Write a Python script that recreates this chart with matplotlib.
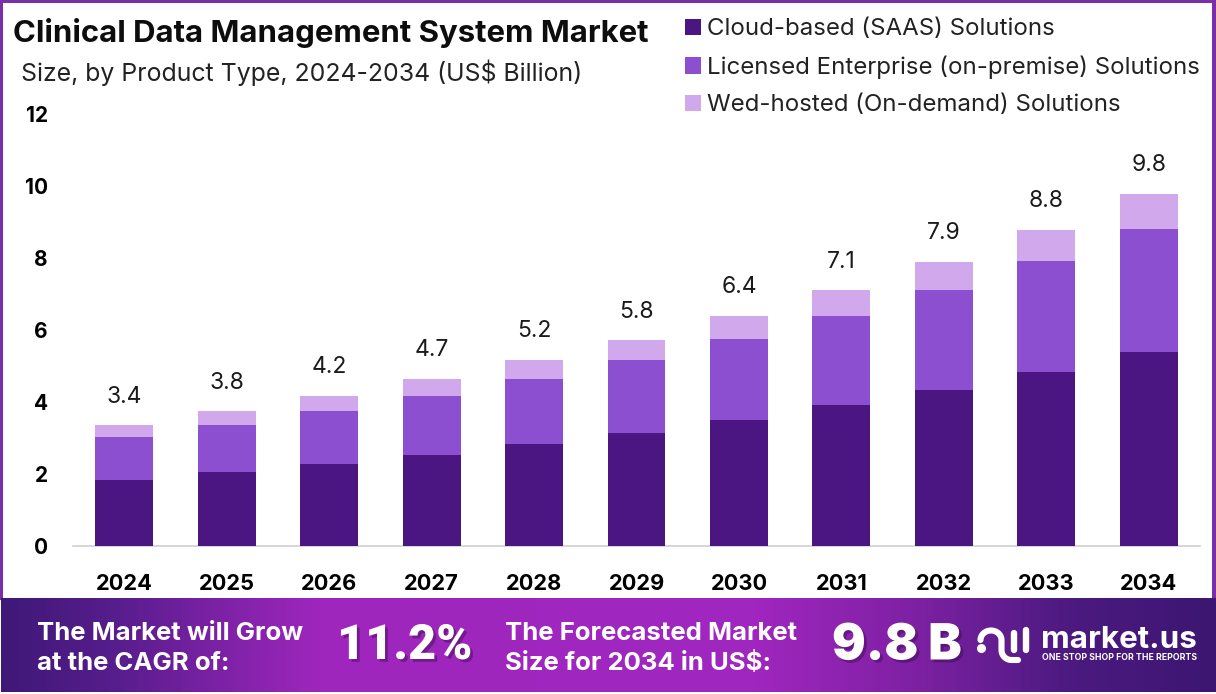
import numpy as np
import matplotlib
matplotlib.use("Agg")
import matplotlib.pyplot as plt
import matplotlib.patheffects as pe
from matplotlib.colors import LinearSegmentedColormap
from matplotlib.patches import Rectangle
from matplotlib.lines import Line2D

plt.rcParams['font.family'] = ['Inter', 'DejaVu Sans']

# Data
years = [2024, 2025, 2026, 2027, 2028, 2029, 2030, 2031, 2032, 2033, 2034]
totals = [3.4, 3.8, 4.2, 4.7, 5.2, 5.8, 6.4, 7.1, 7.9, 8.8, 9.8]
cloud = [1.83, 2.05, 2.28, 2.53, 2.83, 3.14, 3.50, 3.92, 4.33, 4.83, 5.39]
licensed = [1.20, 1.31, 1.47, 1.64, 1.81, 2.03, 2.25, 2.47, 2.78, 3.09, 3.42]
web = [0.33, 0.39, 0.42, 0.47, 0.53, 0.55, 0.64, 0.72, 0.78, 0.86, 0.97]
labels = ["Cloud-based (SAAS) Solutions",
          "Licensed Enterprise (on-premise) Solutions",
          "Wed-hosted (On-demand) Solutions"]
colors = ["#4c1682", "#8c4fd0", "#d2a8ec"]
W, H = 1216, 694

fig = plt.figure(figsize=(W / 100, H / 100), dpi=100, facecolor="white")

# full figure overlay in pixel coordinates for frame, banner, logo
bg = fig.add_axes([0, 0, 1, 1])
bg.axis("off")

frame_col = "#7b2fa6"
bg.add_patch(Rectangle((0, 0), W, 3, color=frame_col, lw=0))
bg.add_patch(Rectangle((0, 0), 2.5, 600, color=frame_col, lw=0))
bg.add_patch(Rectangle((W - 4, 0), 4, 600, color=frame_col, lw=0))

cmap = LinearSegmentedColormap.from_list("banner", [
    (0.0, "#3f1878"), (0.09, "#561d8c"), (0.26, "#9f26bd"),
    (0.62, "#a026bf"), (0.75, "#7f21a4"), (0.88, "#4c1a80"), (1.0, "#3d1672")])
grad = np.linspace(0, 1, 600).reshape(1, -1)
bg.imshow(grad, cmap=cmap, extent=(1, W, 692, 598), aspect="auto", zorder=1)
bg.set_xlim(0, W)
bg.set_ylim(H, 0)

# chart
ax = fig.add_axes([73 / W, 1 - 546 / H, 1127 / W, 432 / H], facecolor="none")
x = np.arange(len(years))
bottom = np.zeros(len(years))
for vals, col, lab in zip([cloud, licensed, web], colors, labels):
    ax.bar(x, vals, 0.566, bottom=bottom, color=col, label=lab, zorder=3)
    bottom = bottom + np.array(vals)
for xi, top, t in zip(x, bottom, totals):
    ax.annotate(f"{t}", (xi, top), xytext=(0, 20.5), textcoords="offset points",
                ha="center", va="center", fontsize=16.5, color="#1a1a1a")

ax.set_xlim(-0.5, 10.5)
ax.set_ylim(0, 12)
ax.set_xticks(x, [str(y) for y in years], fontsize=15.7, fontweight="bold")
ax.set_yticks(range(0, 13, 2))
ax.tick_params(axis="y", length=0, pad=18, labelsize=15)
ax.tick_params(axis="x", length=0, pad=20)
for lb in ax.get_yticklabels():
    lb.set_fontweight("bold")
for s in ["top", "right", "left"]:
    ax.spines[s].set_visible(False)
ax.spines["bottom"].set_color("#d0d0d0")
ax.spines["bottom"].set_linewidth(1.2)

# titles
bg.text(13, 33, "Clinical Data Management System Market", fontsize=22.4, fontweight="bold",
        color="#0d0d0d", va="center", ha="left")
bg.text(21, 73, "Size, by Product Type, 2024-2034 (US$ Billion)", fontsize=17.9,
        color="#222222", va="center", ha="left")

# legend
handles, leg_labels = ax.get_legend_handles_labels()
leg = fig.legend(handles, leg_labels, loc="upper left", bbox_to_anchor=(678 / W, 1 - 11 / H),
                 frameon=False, fontsize=17.3, handlelength=0.67, handleheight=0.67,
                 handletextpad=0.25, labelspacing=0.64, borderpad=0.3, borderaxespad=0)
for t in leg.get_texts():
    t.set_color("#222222")

# banner text
for xp, yp, s in [(37, 633, "The Market will Grow"), (37, 663, "at the CAGR of:"),
                  (505, 633, "The Forecasted Market"), (505, 663, "Size for 2034 in US$:")]:
    bg.text(xp, yp, s, color="white", fontsize=18.5, fontweight="bold", va="center", ha="left", zorder=5)
big_fx = [pe.withSimplePatchShadow(offset=(2, -2), shadow_rgbFace="#2a0a40", alpha=0.4)]
bg.text(337, 646, "11.2%", color="white", fontsize=35, fontweight="black", family="Roboto",
        va="center", ha="left", zorder=5, path_effects=big_fx)
bg.text(832, 646, "9.8 B", color="white", fontsize=36, fontweight="black",
        va="center", ha="left", zorder=5, path_effects=big_fx)

# logo
bg.text(1041, 640, "market.us", color="white", fontsize=22.6, fontweight="bold", va="center", ha="left", zorder=5)
bg.text(1042, 657, "ONE STOP SHOP FOR THE REPORTS", color="white", fontsize=6.3, fontweight="bold",
        va="center", ha="left", zorder=5)
th = np.linspace(np.pi, 0, 30)
th2 = np.linspace(np.pi, np.pi / 2, 15)
arch_x = np.r_[991 + 10.5 * np.cos(th), 1011.5 + 10 * np.cos(th2), 1018]
arch_y = np.r_[640 - 9.5 * np.sin(th), 650 + 10 * np.sin(th2), 660]
bg.plot(arch_x, arch_y, color="white", lw=4.4, solid_capstyle="round", zorder=5)
bg.add_line(Line2D([1014, 1014], [633, 650], color="white", lw=4.6, solid_capstyle="round", zorder=5))
bg.add_line(Line2D([1026, 1026], [630, 650], color="white", lw=4.6, solid_capstyle="round", zorder=5))
bg.plot([981], [648], "o", color="white", ms=5.5, zorder=5)

fig.savefig("out.png", dpi=100)
